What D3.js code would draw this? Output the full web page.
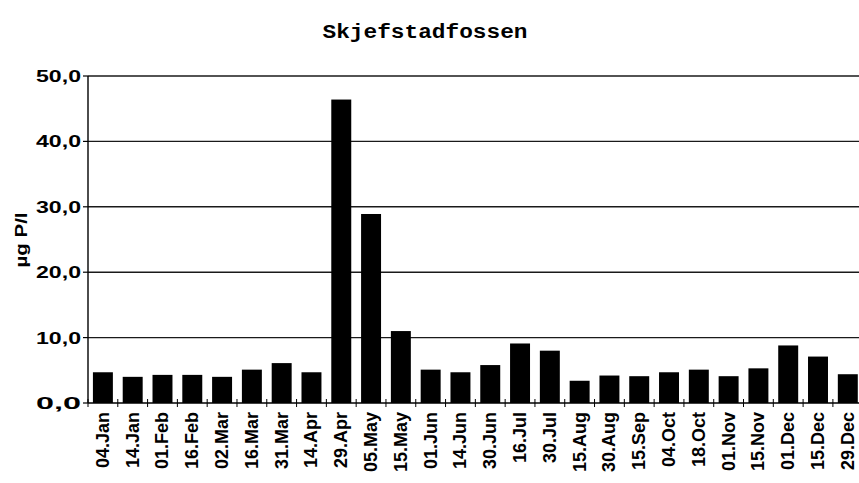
<!DOCTYPE html>
<html>
<head>
<meta charset="utf-8">
<script src="https://cdn.jsdelivr.net/npm/d3@7"></script>
<style>
  body { margin: 0; background: #fff; }
  text { font-family: "Liberation Sans", Arial, sans-serif; font-weight: bold; fill: #000; }
</style>
</head>
<body>
<svg id="chart" width="859" height="483"></svg>
<script>
const dates = ["04.Jan", "14.Jan", "01.Feb", "16.Feb", "02.Mar", "16.Mar", "31.Mar", "14.Apr",
  "29.Apr", "05.May", "15.May", "01.Jun", "14.Jun", "30.Jun", "16.Jul", "30.Jul", "15.Aug",
  "30.Aug", "15.Sep", "04.Oct", "18.Oct", "01.Nov", "15.Nov", "01.Dec", "15.Dec", "29.Dec"];
const values = [4.7, 4.0, 4.3, 4.3, 4.0, 5.1, 6.1, 4.7, 46.4, 28.9, 11.0, 5.1, 4.7, 5.8,
  9.1, 8.0, 3.4, 4.2, 4.1, 4.7, 5.1, 4.1, 5.3, 8.8, 7.1, 4.4];
const yTicks = [0, 10, 20, 30, 40, 50];
const title = "Skjefstadfossen";
const yLabel = "µg P/l";

const svg = d3.select("#chart");
const plotLeft = 88, plotRight = 862.7, plotTop = 76, plotBottom = 403;

const x = d3.scaleBand().domain(dates).range([plotLeft, plotRight])
  .paddingInner(0.33).paddingOuter(0.165);
const y = d3.scaleLinear().domain([0, 50]).range([plotBottom, plotTop]);
const fmt = (d) => d3.format(".1f")(d).replace(".", ",");

// title
svg.append("text")
  .attr("x", 425).attr("y", 38)
  .attr("text-anchor", "middle")
  .attr("textLength", 205).attr("lengthAdjust", "spacingAndGlyphs")
  .style("font-family", "'Liberation Mono', 'Courier New', monospace")
  .style("font-size", "20px")
  .text(title);

// gridlines
svg.append("g").selectAll("line").data(yTicks.filter((d) => d > 0)).join("line")
  .attr("x1", plotLeft).attr("x2", 859)
  .attr("y1", (d) => y(d)).attr("y2", (d) => y(d))
  .attr("stroke", "#1a1a1a").attr("stroke-width", 1.4);

// bars
svg.append("g").selectAll("rect").data(values).join("rect")
  .attr("x", (d, i) => x(dates[i]))
  .attr("width", x.bandwidth())
  .attr("y", (d) => y(d))
  .attr("height", (d) => y(0) - y(d))
  .attr("fill", "#000");

// y axis
const yAxis = svg.append("g");
yAxis.append("line")
  .attr("x1", plotLeft).attr("x2", plotLeft).attr("y1", plotTop).attr("y2", plotBottom)
  .attr("stroke", "#000").attr("stroke-width", 1.4);
yAxis.selectAll("line.tick").data(yTicks).join("line")
  .attr("class", "tick")
  .attr("x1", plotLeft - 5).attr("x2", plotLeft)
  .attr("y1", (d) => y(d)).attr("y2", (d) => y(d))
  .attr("stroke", "#000").attr("stroke-width", 1.2);
yAxis.selectAll("text").data(yTicks).join("text")
  .attr("x", 81).attr("y", (d) => y(d) + 6)
  .attr("text-anchor", "end")
  .attr("textLength", 45).attr("lengthAdjust", "spacingAndGlyphs")
  .style("font-size", "17px")
  .text(fmt);

// y label
svg.append("text")
  .attr("transform", "translate(27,240) rotate(-90)")
  .attr("text-anchor", "middle")
  .attr("textLength", 55).attr("lengthAdjust", "spacingAndGlyphs")
  .style("font-size", "16px")
  .text(yLabel);

// x axis
const xAxis = svg.append("g");
xAxis.append("line")
  .attr("x1", plotLeft).attr("x2", 859).attr("y1", plotBottom).attr("y2", plotBottom)
  .attr("stroke", "#000").attr("stroke-width", 1.4);
const step = x.step();
xAxis.selectAll("line.tick").data(d3.range(dates.length + 1)).join("line")
  .attr("class", "tick")
  .attr("x1", (i) => plotLeft + i * step).attr("x2", (i) => plotLeft + i * step)
  .attr("y1", plotBottom - 4).attr("y2", plotBottom + 4)
  .attr("stroke", "#000").attr("stroke-width", 1);
xAxis.selectAll("text").data(dates).join("text")
  .attr("transform", (d) => `translate(${x(d) + x.bandwidth() / 2 + 6},412) rotate(-90)`)
  .attr("text-anchor", "end")
  .style("font-size", "18px")
  .text((d) => d);
</script>
</body>
</html>
